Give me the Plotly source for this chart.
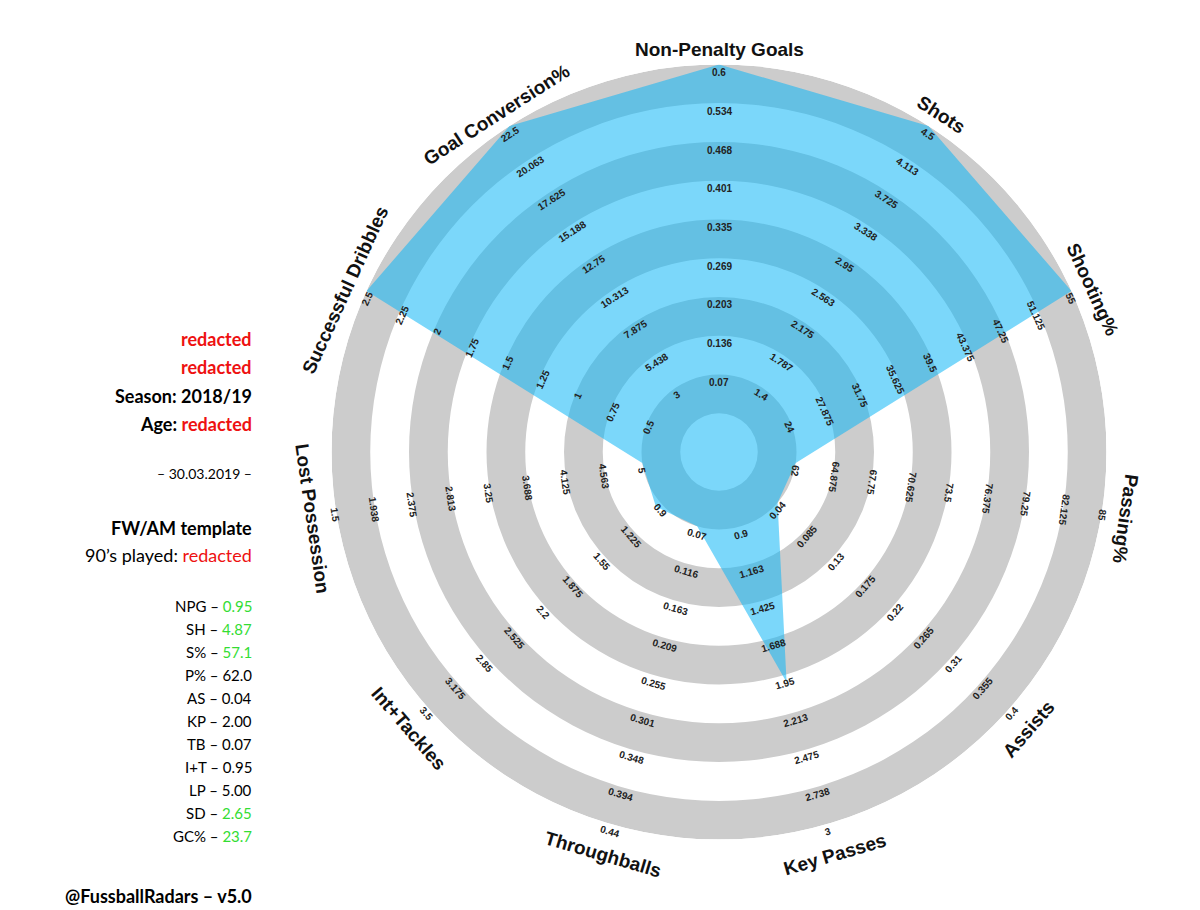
import math
import plotly.graph_objects as go

# axes clockwise from the top
categories = ["Non-Penalty Goals", "Shots", "Shooting%", "Passing%", "Assists", "Key Passes",
              "Throughballs", "Int+Tackles", "Lost Possession", "Successful Dribbles", "Goal Conversion%"]
# value at inner ring / value at outer ring
inner_vals = [0.07, 1.4, 24, 62, 0.04, 0.9, 0.07, 0.9, 5, 0.5, 3]
outer_vals = [0.6, 4.5, 55, 85, 0.4, 3, 0.44, 3.5, 1.5, 2.5, 22.5]
tick_labels = [
    ["0.07", "0.136", "0.203", "0.269", "0.335", "0.401", "0.468", "0.534", "0.6"],
    ["1.4", "1.787", "2.175", "2.563", "2.95", "3.338", "3.725", "4.113", "4.5"],
    ["24", "27.875", "31.75", "35.625", "39.5", "43.375", "47.25", "51.125", "55"],
    ["62", "64.875", "67.75", "70.625", "73.5", "76.375", "79.25", "82.125", "85"],
    ["0.04", "0.085", "0.13", "0.175", "0.22", "0.265", "0.31", "0.355", "0.4"],
    ["0.9", "1.163", "1.425", "1.688", "1.95", "2.213", "2.475", "2.738", "3"],
    ["0.07", "0.116", "0.163", "0.209", "0.255", "0.301", "0.348", "0.394", "0.44"],
    ["0.9", "1.225", "1.55", "1.875", "2.2", "2.525", "2.85", "3.175", "3.5"],
    ["5", "4.563", "4.125", "3.688", "3.25", "2.813", "2.375", "1.938", "1.5"],
    ["0.5", "0.75", "1", "1.25", "1.5", "1.75", "2", "2.25", "2.5"],
    ["3", "5.438", "7.875", "10.313", "12.75", "15.188", "17.625", "20.063", "22.5"],
]
player_vals = [0.95, 4.87, 57.1, 62.0, 0.04, 2.00, 0.07, 0.95, 5.00, 2.65, 23.7]

stat_names = ["NPG", "SH", "S%", "P%", "AS", "KP", "TB", "I+T", "LP", "SD", "GC%"]
stat_text = ["0.95", "4.87", "57.1", "62.0", "0.04", "2.00", "0.07", "0.95", "5.00", "2.65", "23.7"]
stat_good = [True, True, True, False, False, False, False, False, False, True, True]

n = len(categories)
angles = [i * 360 / n for i in range(n)]

# radius: 2 + level (level 0..8), outer band edge at 10
def level(v, lo, hi):
    t = (v - lo) / (hi - lo)
    return 2 + 8 * min(max(t, 0), 1)

poly_r = [level(v, lo, hi) for v, lo, hi in zip(player_vals, inner_vals, outer_vals)]

fig = go.Figure()
for b in [1, 3, 5, 7, 9]:
    fig.add_trace(go.Barpolar(r=[1], base=[b], theta=[0], width=[360],
                              marker=dict(color="#cccccc", line=dict(width=0)),
                              hoverinfo="skip", showlegend=False))
fig.add_trace(go.Scatterpolar(r=poly_r + [poly_r[0]], theta=angles + [angles[0]],
                              fill="toself", fillcolor="rgba(15,182,245,0.55)",
                              mode="lines", line=dict(width=0, color="rgba(0,0,0,0)"),
                              showlegend=False))

cx, cy, unit = 711, 452, 38.75
cy_dom = 444
W, H = 1200, 910
R = 10 * unit
fig.update_layout(
    width=W, height=H, margin=dict(l=0, r=0, t=0, b=0),
    paper_bgcolor="white", showlegend=False,
    polar=dict(
        domain=dict(x=[(cx - R) / W, (cx + R) / W], y=[(H - cy_dom - R) / H, (H - cy_dom + R) / H]),
        bgcolor="white",
        radialaxis=dict(visible=False, range=[0, 10]),
        angularaxis=dict(visible=False, direction="clockwise", rotation=90),
        barmode="overlay",
    ),
)

def pos(r_units, ang):
    a = math.radians(ang)
    x = cx + r_units * unit * math.sin(a)
    y = cy - r_units * unit * math.cos(a)
    return x / W, (H - y) / H

def rot(ang):
    if ang < 100:
        return ang
    if ang < 270:
        return ang - 180
    return ang - 360

for ang, labels in zip(angles, tick_labels):
    for k, lab in enumerate(labels):
        x, y = pos(2 + k, ang)
        fig.add_annotation(x=x, y=y, xref="paper", yref="paper", text="<b>" + lab + "</b>",
                           showarrow=False, textangle=rot(ang), xanchor="center", yanchor="middle",
                           font=dict(family="Liberation Sans", size=10, color="#222"))

for ang, cat in zip(angles, categories):
    x, y = pos(10.6, ang)
    fig.add_annotation(x=x, y=y, xref="paper", yref="paper", text="<b>" + cat + "</b>",
                       showarrow=False, textangle=rot(ang), xanchor="center", yanchor="middle",
                       font=dict(family="Liberation Sans", size=19, color="#111"))

RED = "#ee1111"
GREEN = "#33dd33"
xr = 246 / W
def left(text, ypx, size=18):
    fig.add_annotation(x=xr, y=(H - ypx) / H, xref="paper", yref="paper", text=text,
                       showarrow=False, xanchor="right", yanchor="middle", align="right",
                       font=dict(family="Lato", size=size, color="black"))

left(f"<b><span style='color:{RED}'>redacted</span></b>", 331)
left(f"<b><span style='color:{RED}'>redacted</span></b>", 359)
left("<b>Season: 2018/19</b>", 388)
left(f"<b>Age: <span style='color:{RED}'>redacted</span></b>", 416)
left("– 30.03.2019 –", 466, 14)
left("<b>FW/AM template</b>", 520)
left(f"90’s played: <span style='color:{RED}'>redacted</span>", 547)
for i, (nm, tx, g) in enumerate(zip(stat_names, stat_text, stat_good)):
    val = f"<span style='color:{GREEN}'>{tx}</span>" if g else tx
    left(f"{nm} – {val}", 598 + i * 23, 15)
left("<b>@FussballRadars – v5.0</b>", 888)

fig.write_html("out.html")
